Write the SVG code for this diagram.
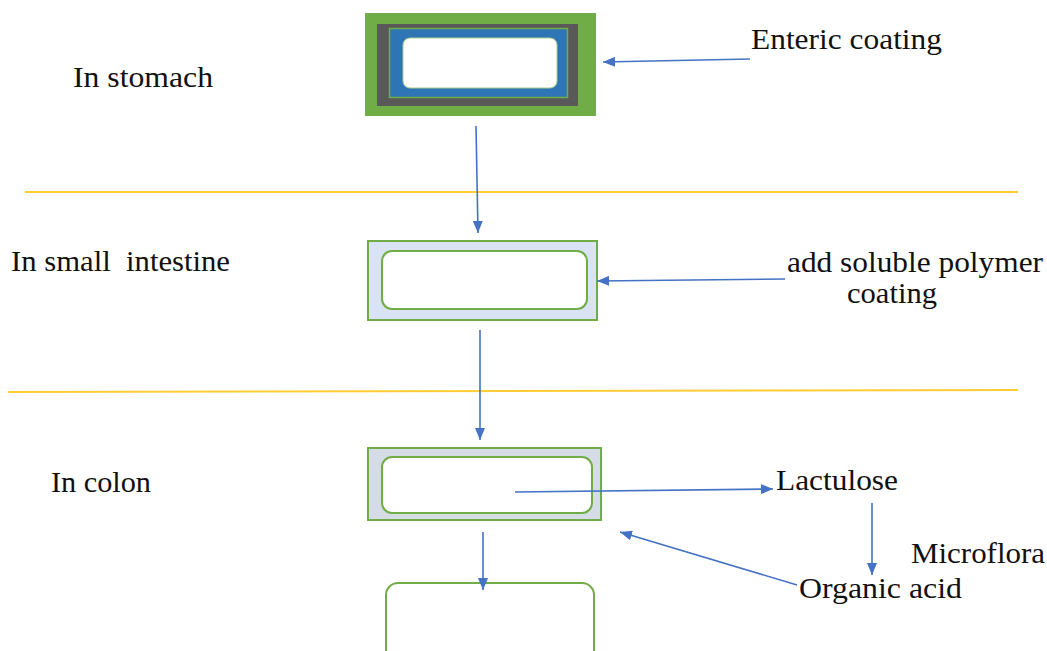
<svg xmlns="http://www.w3.org/2000/svg" width="1047" height="651" viewBox="0 0 1047 651">
<style>
text{font-family:'Liberation Serif','DejaVu Serif',serif;font-size:30px;fill:#111}
.g{stroke:#70ad47;stroke-width:2}
.c{stroke:#4472c4;stroke-width:1.6;fill:none;marker-end:url(#ah)}
.y{stroke:#ffc000;stroke-width:2;opacity:0.8;fill:none}
</style>
<defs>
<marker id="ah" viewBox="0 0 12 10" refX="12" refY="5" markerWidth="12" markerHeight="10" markerUnits="userSpaceOnUse" orient="auto">
<path d="M0,0 L12,5 L0,10 Z" fill="#4472c4"/>
</marker>
</defs>
<rect width="1047" height="651" fill="#fff"/>
<g id="dividers">
<line class="y" x1="25" y1="192" x2="1018" y2="192"/>
<line class="y" x1="8" y1="392" x2="1018" y2="390"/>
</g>
<g id="labels">
<text x="73" y="87" textLength="140" lengthAdjust="spacingAndGlyphs">In stomach</text>
<text x="11" y="271" xml:space="preserve" textLength="219" lengthAdjust="spacingAndGlyphs">In small  intestine</text>
<text x="51" y="492" textLength="100" lengthAdjust="spacingAndGlyphs">In colon</text>
</g>
<g id="enteric-coating"><text x="751" y="49" textLength="191" lengthAdjust="spacingAndGlyphs">Enteric coating</text></g>
<g id="polymer-coating">
<text x="787" y="272" textLength="256" lengthAdjust="spacingAndGlyphs">add soluble polymer</text>
<text x="847" y="303" textLength="90" lengthAdjust="spacingAndGlyphs">coating</text>
</g>
<g id="lactulose"><text x="776" y="490" textLength="122" lengthAdjust="spacingAndGlyphs">Lactulose</text></g>
<g id="microflora"><text x="911" y="563" textLength="134" lengthAdjust="spacingAndGlyphs">Microflora</text></g>
<g id="organic-acid"><text x="799" y="598" textLength="163" lengthAdjust="spacingAndGlyphs">Organic acid</text></g>
<g id="stomach-capsule">
<rect x="365" y="13" width="231" height="103" fill="#70ad47"/>
<rect x="377" y="24" width="201" height="82" fill="#595959"/>
<rect x="389.5" y="28.5" width="178" height="69" fill="#2e75b6" stroke="#70ad47" stroke-width="1.5"/>
<rect x="403" y="38" width="154" height="50" rx="7" fill="#fff" stroke="#a9d18e" stroke-width="1"/>
</g>
<g id="intestine-capsule">
<rect class="g" x="368" y="241" width="229" height="79" fill="#dae3f3"/>
<rect class="g" x="382" y="251" width="205" height="58" rx="10" fill="#fff"/>
</g>
<g id="colon-capsule">
<rect class="g" x="368" y="448" width="233" height="72" fill="#d6dce5"/>
<rect class="g" x="382" y="457" width="210" height="56" rx="10" fill="#fff"/>
</g>
<g id="released">
<rect class="g" x="386" y="583" width="208" height="100" rx="12" fill="#fff"/>
</g>
<g id="connectors">
<line class="c" x1="750" y1="59" x2="603" y2="62"/>
<line class="c" x1="476" y1="126" x2="478" y2="233"/>
<line class="c" x1="785" y1="279" x2="597" y2="281"/>
<line class="c" x1="480" y1="330" x2="480" y2="440"/>
<line class="c" x1="515" y1="492" x2="773" y2="489"/>
<line class="c" x1="483" y1="532" x2="483" y2="590"/>
<line class="c" x1="872" y1="503" x2="872" y2="575"/>
<line class="c" x1="797" y1="585" x2="620" y2="532"/>
</g>
</svg>
